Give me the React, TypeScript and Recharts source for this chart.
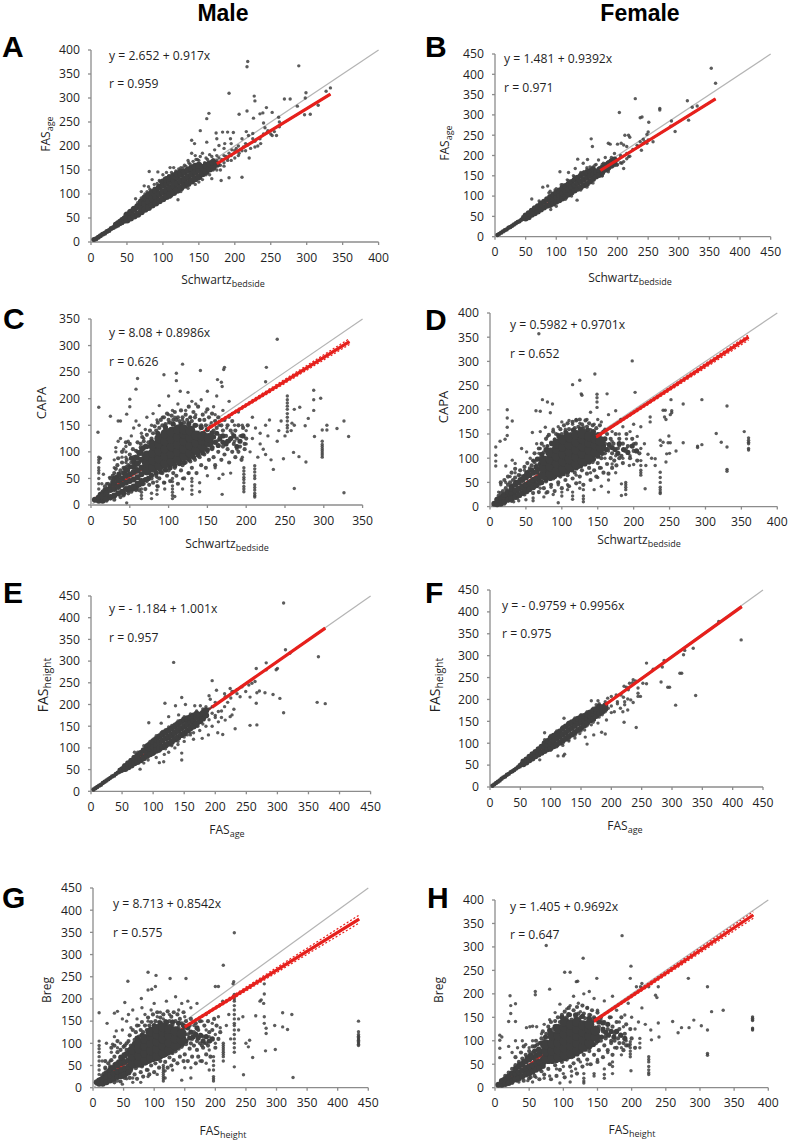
import { ScatterChart, Scatter, XAxis, YAxis } from "recharts";

type Pt = [number, number];

const font = "'Open Sans', sans-serif";
const dotColor = "#3f3f3f";
const redColor = "#e6201c";

const ticks350 = [0, 50, 100, 150, 200, 250, 300, 350];
const ticks400 = [0, 50, 100, 150, 200, 250, 300, 350, 400];
const ticks450 = [0, 50, 100, 150, 200, 250, 300, 350, 400, 450];

// band / core = the solid part of each cloud, drawn with bigger dots; dense, halo and pts = the dots you can tell apart
const bandA: Pt[] = [[4,5],[7,7],[10,10],[13,13],[16,16],[19,18],[22,22],[25,24],[28,28],[31,30],[34,33],[34,37],[37,35],[37,40],[40,38],[40,43],[43,40],[43,47],[46,43],[46,50],[49,45],[49,54]];
const coreA: Pt[] = [[50,46],[50,56],[55,50],[55,62],[60,54],[60,68],[65,58],[65,74],[70,63],[70,74],[70,84],[75,68],[75,80],[75,92],[80,72],[80,85],[80,98],[85,77],[85,90],[85,103],[90,81],[90,95],[90,108],[95,86],[95,100],[95,114],[100,90],[100,104],[100,118],[100,125],[105,95],[105,108],[105,122],[105,130],[110,99],[110,112],[110,126],[110,134],[115,103],[115,117],[115,130],[115,138],[120,108],[120,122],[120,136],[120,142],[125,113],[125,127],[125,141],[125,146],[130,118],[130,132],[130,146],[135,122],[135,136],[135,150],[140,127],[140,141],[140,154],[145,132],[145,146],[145,158],[150,136],[150,150],[150,160],[155,142],[155,155],[160,147],[160,160],[165,152],[165,163],[170,156],[170,166],[175,162]];
const ptsA: Pt[] = [[218,376],[217,365],[289,367],[299,311],[298,300],[327,314],[333,321],[192,310],[227,304],[228,294],[269,298],[277,298],[287,283],[316,285],[297,265],[305,266],[164,268],[161,257],[217,273],[206,266],[152,232],[226,258],[235,267],[239,269],[244,280],[252,270],[261,260],[262,250],[240,248],[242,238],[140,212],[144,205],[161,208],[174,227],[183,229],[190,229],[198,228],[216,230],[219,222],[225,226],[194,215],[175,215],[178,201],[81,147],[93,146],[74,117],[62,90],[210,135],[192,134],[181,128],[168,132],[121,88],[200,190],[205,200],[210,190],[215,205],[220,175],[222,195],[228,210],[232,200],[235,215],[240,225],[245,228],[250,225],[255,230],[258,222],[262,240],[200,175],[195,180],[190,170],[185,165],[180,160],[175,170],[170,160],[165,165],[160,150],[160,175],[150,170],[155,185],[145,180],[140,185],[135,170],[130,160],[125,155],[115,155],[110,155],[105,145],[100,140],[95,128],[88,120],[85,130],[80,115],[70,105],[150,125],[160,140],[170,150],[180,150],[190,175],[175,180],[185,195],[195,205],[210,215],[225,215],[228,198],[236,205],[246,232],[252,222],[168,178],[172,192],[186,205],[152,160],[148,172],[138,162],[128,148],[118,145],
[60,70],[65,82],[70,92],[75,100],[78,105],[82,110],[88,112],[92,122],[96,126],[102,132],[108,138],[112,145],[118,148],[122,152],[128,155],[132,158],[136,165],[142,168],[146,172],[152,178],[158,165],[162,172],[165,182],[170,172],[172,165],[178,175],[182,172],[185,180],[188,178],[192,185],[196,192],[202,195],[206,185],[212,198],[218,202],[110,93],[125,105],[135,112],[145,120],[155,130],[165,140],[175,150],[185,158],[195,170],[205,180],[215,190]];
const fitA: Pt[] = [[3,5],[333,308]];
const fitTopA: Pt[] = [[175,163],[333,308]];

const bandB: Pt[] = [[4,4],[7,7],[10,10],[13,13],[16,16],[19,18],[22,22],[25,24],[28,27],[31,30],[34,33],[37,36],[40,38],[43,42],[46,44],[46,48]];
const coreB: Pt[] = [[50,45],[50,52],[55,48],[55,58],[60,54],[60,64],[65,58],[65,70],[70,62],[70,75],[75,67],[75,81],[80,72],[80,86],[85,76],[85,92],[90,78],[90,88],[90,98],[95,82],[95,93],[95,104],[100,86],[100,97],[100,108],[105,90],[105,102],[105,114],[110,94],[110,107],[110,120],[115,99],[115,112],[115,125],[120,104],[120,117],[120,130],[125,109],[125,122],[125,135],[130,114],[130,127],[130,140],[135,118],[135,132],[135,145],[140,122],[140,136],[140,150],[145,127],[145,141],[145,155],[150,130],[150,145],[150,158],[155,136],[155,150],[155,162],[160,142],[160,155],[160,166],[165,148],[165,160],[170,152],[170,165],[175,158],[175,170],[180,165],[180,175],[185,170],[185,180],[190,175],[190,186],[195,182],[195,190]];
const ptsB: Pt[] = [[353,415],[360,378],[229,340],[203,306],[314,335],[322,319],[330,322],[269,316],[269,312],[237,293],[240,295],[251,282],[288,285],[287,272],[294,259],[316,287],[157,241],[159,222],[185,230],[212,250],[218,250],[220,245],[250,258],[248,252],[206,230],[200,228],[188,228],[210,226],[215,222],[135,191],[151,190],[106,160],[120,158],[78,122],[86,125],[60,93],[134,90],[91,67],[237,234],[242,230],[245,234],[234,222],[239,213],[258,234],[242,240],[250,238],[218,197],[210,168],[207,181],[199,176],[185,164],[190,189],[177,181],[169,189],[163,176],[144,181],[131,168],[158,148],[180,195],[170,170],[160,165],[150,170],[140,158],[128,150],[118,140],[108,128],[98,115],[88,108],[72,88],[195,185],[205,200],[215,205],[225,215],[195,205],[175,150],[185,175],[200,178],[232,225],[248,230],[170,155],[155,172],[145,160],
[90,112],[100,118],[110,128],[120,138],[130,148],[140,155],[150,165],[160,172],[165,178],[175,178],[180,180],[185,185],[190,195],[195,180],[200,188],[205,195],[100,75],[115,92],[125,100],[140,115],[150,122],[160,132],[175,150],[185,160],[195,175],[205,182],[210,185],[215,192],[220,198]];
const fitB: Pt[] = [[3,4],[360,339.6]];
const fitTopB: Pt[] = [[172,163],[360,339.6]];

const bandC: Pt[] = [[5,10],[10,8],[10,14],[15,8],[15,16],[20,12],[20,22],[25,15],[25,28],[30,18],[30,30],[30,40],[35,22],[35,34],[35,46],[40,25],[40,38],[40,50],[45,30],[45,42],[45,55],[50,32],[50,45],[50,58],[55,35],[55,48],[55,62],[55,72],[60,40],[60,52],[60,65],[60,78],[65,45],[65,58],[65,70],[65,85]];
const coreC: Pt[] = [[72,65],[72,79],[72,93],[80,70],[80,84],[80,98],[80,112],[88,73],[88,87],[88,101],[88,115],[88,125],[96,78],[96,92],[96,106],[96,120],[96,134],[104,82],[104,96],[104,110],[104,124],[104,138],[112,86],[112,100],[112,114],[112,128],[112,142],[120,92],[120,106],[120,120],[120,134],[120,142],[128,98],[128,112],[128,126],[128,140],[136,103],[136,117],[136,131],[144,110],[144,122],[144,130],[152,118],[152,126]];
const denseC: Pt[] = [[12,20],[15,22],[18,28],[22,30],[25,36],[28,42],[30,50],[33,52],[36,58],[38,48],[42,60],[44,68],[47,66],[50,72],[52,88],[55,82],[58,90],[60,88],[62,98],[64,100],[66,105],[68,108],[42,22],[48,28],[53,30],[58,32],[62,38],[66,40],[70,48],[74,50],[78,56],[84,60],[90,62],[96,66],[102,70],[108,74],[114,78],[120,80],[126,86],[132,90],[138,94],[144,98],[150,104],[156,108],[160,118],[164,112],[158,128],[166,124],[170,118],[174,115],[162,135],[150,142],[156,136],[142,146],[134,150],[126,153],[116,152],[106,152],[96,146],[86,135],[78,120],[72,110],[180,125],[184,130],[188,110],[170,130],[176,120],[192,120],[196,130]];
const haloC: Pt[] = [[55,90],[58,102],[60,118],[62,95],[64,108],[66,128],[68,120],[70,112],[72,132],[74,118],[76,140],[78,125],[80,135],[82,148],[84,140],[86,155],[88,145],[90,160],[92,150],[94,165],[96,152],[98,172],[100,160],[102,155],[104,168],[106,160],[108,175],[110,160],[112,165],[114,158],[116,178],[118,165],[120,155],[122,170],[124,160],[126,185],[128,165],[130,158],[132,175],[134,165],[136,150],[138,185],[140,160],[142,150],[144,170],[146,160],[148,150],[150,180],[152,165],[154,148],[156,172],[158,140],[160,158],[162,145],[164,165],[166,130],[168,150],[170,140],[172,160],[174,130],[176,150],[178,120],[180,140],[182,158],[184,115],[186,140],[188,125],[190,150],[192,110],[194,130],[196,145],[198,105],[200,125],[202,150],
[55,30],[60,35],[62,28],[68,40],[70,30],[72,45],[75,38],[78,50],[80,42],[84,55],[86,35],[88,50],[92,60],[94,42],[98,55],[100,65],[102,45],[106,60],[108,70],[110,55],[112,40],[116,65],[118,75],[120,50],[122,80],[126,60],[128,82],[130,70],[134,85],[136,60],[140,90],[142,75],[146,95],[148,70],[150,100],[152,85],[156,105],[158,90],[160,75],[162,120],[164,100],[168,85],[170,110],[172,95],[176,105],[178,80],[182,100],[186,90],[190,100],[194,85],[198,115],
[15,25],[18,35],[22,40],[25,50],[28,55],[30,60],[32,68],[34,75],[36,55],[38,65],[40,80],[42,70],[44,60],[46,85],[48,75],[50,95],[52,80],[54,105],[56,85],[58,70],[60,100],[62,80],[64,115],[66,95],[28,45],[35,88],[40,100],[45,118],[50,115],[25,12],[30,10],[38,15],[42,18],[48,22],[52,25],[58,28],[20,8],[35,20]];
const ptsC: Pt[] = [[240,312],[226,259],[172,259],[171,255],[141,253],[118,265],[94,245],[110,248],[110,234],[60,238],[58,218],[10,184],[25,167],[9,137],[50,199],[50,185],[46,171],[163,236],[168,231],[169,223],[225,232],[287,216],[287,198],[296,201],[287,178],[280,163],[326,158],[317,144],[304,150],[304,141],[298,141],[276,149],[332,129],[288,129],[326,23],[262,31],[169,20],[46,4],[277,81],[248,87],[235,67],[261,99],[268,91],[269,184],[262,180],[259,154],
[298,90],[298,94],[298,98],[298,102],[298,106],[298,110],[298,114],[298,120],[211,15],[211,18],[211,22],[211,28],[211,33],[211,38],[211,50],[211,55],[211,62],[211,68],[211,74],[197,25],[197,30],[197,35],[197,42],[197,48],[197,52],[197,58],[197,64],[197,70],[253,138],[253,145],[253,150],[253,158],[253,165],[253,172],[253,180],[253,186],[253,192],[253,198],[253,205],
[105,12],[105,18],[105,24],[105,30],[105,36],[105,44],[105,50],[108,16],[85,20],[85,28],[85,36],[85,44],[85,52],[85,60],[130,20],[130,28],[130,36],[130,44],[130,50],[65,12],[65,18],[65,24],[65,30],[78,12],[78,22],[95,30],[95,42],[118,30],[118,50],[125,60],[140,25],[140,42],[150,55],[165,50],[170,58],[160,70],[180,60],
[10,30],[10,40],[10,50],[10,60],[10,65],[10,70],[10,80],[10,85],[10,90],[12,88],[14,40],[16,58],[20,40],[24,52],[30,70],[30,85],[32,100],[32,108],[35,120],[38,125],[40,90],[42,105],[45,60],[45,72],[45,80],[45,90],[45,100],[45,110],[48,120],[35,158],[38,158],[52,130],[55,145],[58,158],[62,150],[65,135],[68,125],[70,142],[72,165],[78,150],[80,172],[85,160],[88,187],[92,165],[95,150],[100,155],[100,170],[100,205],[105,178],[108,165],[112,190],[115,214],[118,160],[122,178],[125,212],[128,165],[130,195],[135,170],[135,190],[140,160],[142,198],[148,175],[150,214],[155,155],[158,185],[160,170],[162,205],[165,150],[168,160],[170,178],[175,145],[178,165],[178,195],[182,135],[185,120],[185,150],[188,105],[190,175],[192,130],[195,90],[195,150],[200,115],[200,140],[205,100],[208,125],[208,165],[212,145],[215,90],[218,115],[218,135],[222,105],[225,150],[225,95],[228,130],[230,160],[232,85],[240,120],[242,140],[245,158],[250,130],[258,140],[262,150]];
const fitC: Pt[] = [[5,12.6],[333,307.3]];
const fitTopC: Pt[] = [[150,143],[333,307.3]];
const upperC: Pt[] = [[150,145],[333,313]];
const lowerC: Pt[] = [[150,141],[333,302]];

const bandD: Pt[] = [[6,6],[10,5],[10,14],[15,6],[15,18],[20,10],[20,24],[25,14],[25,30],[30,16],[30,28],[30,38],[35,20],[35,33],[35,45],[40,24],[40,37],[40,50],[45,28],[45,42],[45,55],[50,32],[50,45],[50,60],[55,36],[55,50],[55,65],[60,40],[60,55],[60,70],[65,44],[65,58],[65,72],[70,50],[70,62],[70,78]];
const coreD: Pt[] = [[75,65],[75,80],[75,95],[84,68],[84,83],[84,98],[84,112],[93,74],[93,89],[93,104],[93,119],[93,130],[102,78],[102,93],[102,108],[102,123],[102,138],[111,83],[111,98],[111,113],[111,128],[111,143],[120,88],[120,103],[120,118],[120,133],[120,148],[129,94],[129,109],[129,124],[129,139],[129,150],[138,102],[138,117],[138,132],[138,145],[147,112],[147,127],[147,140],[154,122],[154,135]];
const denseD: Pt[] = [[12,10],[16,12],[18,22],[22,16],[24,30],[27,22],[30,42],[33,26],[36,50],[38,32],[42,56],[44,38],[47,62],[50,38],[52,70],[56,44],[58,76],[62,48],[64,82],[68,54],[70,88],[72,50],[78,56],[84,58],[90,62],[96,66],[102,68],[108,72],[114,76],[120,80],[126,84],[132,88],[138,92],[144,98],[150,104],[156,110],[162,118],[158,125],[166,128],[170,122],[174,118],[178,110],[160,140],[152,148],[144,155],[136,158],[126,160],[116,158],[106,152],[96,145],[86,130],[78,118],[72,108],[66,98],[180,130],[186,118],[192,112],[198,125],[204,115]];
const haloD: Pt[] = [[60,95],[62,110],[65,85],[68,120],[70,100],[72,130],[75,112],[78,140],[80,125],[82,148],[85,132],[88,155],[90,138],[92,150],[95,148],[98,160],[100,150],[103,168],[105,155],[108,172],[110,160],[113,150],[115,175],[118,162],[120,178],[123,165],[125,180],[128,170],[130,160],[133,178],[135,165],[138,172],[140,158],[143,168],[145,150],[148,162],[150,150],[153,168],[155,140],[158,155],[160,130],[163,150],[165,120],[168,140],[170,110],[172,130],[175,150],[178,120],[180,140],[183,105],[185,130],[188,115],[190,150],[192,125],[195,100],[198,140],[200,115],[203,130],[205,95],[208,110],
[55,35],[58,50],[60,28],[63,42],[65,55],[68,30],[70,48],[72,60],[75,38],[78,52],[80,30],[82,62],[85,45],[88,58],[90,32],[92,68],[95,50],[98,62],[100,38],[103,72],[105,55],[108,65],[110,42],[113,78],[115,58],[118,70],[120,48],[123,82],[125,62],[128,75],[130,45],[133,88],[135,68],[138,80],[140,55],[143,92],[145,75],[148,62],[150,90],[153,80],[155,100],[158,70],[160,110],[163,88],[165,68],[168,100],[170,80],[173,95],[176,85],[180,100],[185,90],
[10,15],[12,22],[15,28],[18,32],[20,12],[22,38],[25,45],[28,50],[30,12],[32,55],[35,60],[38,18],[40,65],[42,75],[45,58],[48,82],[50,68],[52,90],[55,75],[58,85],[60,70],[62,92],[65,80],[25,62],[30,70],[35,78],[15,50],[20,55],[42,22],[48,25],[52,30]];
const ptsD: Pt[] = [[68,357],[198,301],[146,274],[125,261],[115,252],[127,233],[128,230],[149,232],[149,225],[149,216],[149,205],[163,233],[202,236],[73,221],[80,216],[87,212],[24,200],[24,183],[31,177],[24,164],[64,198],[70,197],[59,153],[70,155],[77,164],[84,194],[8,123],[14,135],[21,139],[24,147],[8,106],[8,94],[8,84],[22,84],[31,96],[35,89],[44,120],[51,113],[56,100],[330,208],[295,221],[354,155],[315,151],[322,133],[330,123],[360,142],[360,137],[360,133],[360,130],[360,120],[360,117],[330,77],[330,73],[295,128],[289,125],[289,122],[269,132],[269,212],[252,221],[241,199],[244,199],[253,198],[253,194],[251,190],[243,185],[245,180],[249,146],[248,132],[251,132],[259,115],[246,109],[250,110],[245,92],[237,137],[241,133],[238,126],[223,185],[223,175],[230,99],[230,85],[237,71],[237,60],[237,50],[237,40],[237,35],[237,30],[237,27],[216,37],[210,95],[210,85],[210,75],[210,70],[210,65],[217,85],[194,85],[200,87],[189,50],[189,45],[189,40],[189,35],[189,25],[183,23],[183,47],
[95,8],[115,15],[115,22],[115,30],[130,10],[130,16],[130,22],[130,35],[100,22],[100,30],[88,25],[75,20],[78,28],[60,12],[60,18],[50,14],[40,12],[33,10],[20,5],[145,35],[150,60],[165,30],[155,42],[165,55],[125,50],[125,38],[108,35],[108,45],[95,45],[85,40],[70,38],[120,65],[140,70],[155,80],[175,70],[170,88],
[90,140],[95,165],[100,175],[105,160],[110,178],[115,170],[120,180],[125,172],[130,165],[135,180],[140,195],[145,170],[150,180],[155,175],[160,160],[165,190],[170,155],[175,198],[180,150],[182,180],[185,165],[190,140],[190,120],[195,105],[195,155],[200,130],[205,145],[210,165],[210,120],[215,130],[220,108],[225,100],[180,125],[175,105],[170,135],[165,115],[160,100],[155,125],[185,100],[200,170],[88,160],[80,145],[75,125],[68,110],[60,95],[55,80],[48,75],[42,65],[35,70],[28,62],[22,50],[15,45],[12,30],[65,130],[70,120],[80,125]];
const fitD: Pt[] = [[3,3.5],[360,350]];
const fitTopD: Pt[] = [[148,144],[360,350]];
const upperD: Pt[] = [[148,146],[360,355]];
const lowerD: Pt[] = [[148,142],[360,344]];

const bandE: Pt[] = [[4,4],[7,7],[10,10],[13,13],[16,15],[19,19],[22,22],[25,25],[28,28],[31,31],[34,34],[37,36],[40,40],[43,43],[46,45],[46,49],[49,47],[49,52],[52,49],[52,55]];
const coreE: Pt[] = [[55,52],[55,58],[60,56],[60,64],[65,60],[65,70],[70,65],[70,77],[75,68],[75,82],[80,72],[80,88],[85,77],[85,94],[90,82],[90,92],[90,102],[95,86],[95,98],[95,108],[100,90],[100,102],[100,114],[105,94],[105,107],[105,120],[110,98],[110,112],[110,126],[115,102],[115,117],[115,132],[120,106],[120,122],[120,136],[125,110],[125,125],[125,140],[130,115],[130,130],[130,145],[135,120],[135,135],[135,150],[140,124],[140,140],[140,155],[145,130],[145,145],[145,160],[150,134],[150,150],[150,165],[155,140],[155,155],[155,168],[160,146],[160,160],[160,170],[165,150],[165,164],[165,174],[170,156],[170,170],[170,178],[175,162],[175,176],[180,168],[180,180],[185,175],[185,186]];
const ptsE: Pt[] = [[310,434],[313,326],[320,318],[366,310],[133,297],[364,205],[377,202],[310,181],[304,214],[293,223],[280,227],[271,231],[267,227],[282,296],[300,283],[298,280],[282,280],[266,283],[195,255],[202,233],[146,216],[119,203],[136,197],[152,200],[93,158],[113,157],[146,88],[146,72],[117,68],[110,66],[79,51],[232,144],[267,153],[256,152],[204,135],[212,131],[189,130],[179,122],[165,120],[266,203],[230,189],[224,172],[216,164],[227,176],[205,184],[224,237],[230,230],[240,218],[256,217],[249,230],[254,245],[259,249],[264,253],[243,241],[235,234],[227,230],[216,218],[190,220],[192,212],[176,197],[167,197],[141,176],[125,172],[180,190],[185,175],[195,180],[200,170],[210,170],[205,160],[195,150],[185,150],[175,140],[165,135],[155,130],[150,115],[140,108],[135,100],[130,105],[125,90],[118,85],[105,78],[92,72],[85,65],[135,155],[125,148],[115,138],[105,128],[95,115],[85,105],[75,90],[70,90],[160,175],[170,185],[185,195],[200,205],[215,225],[235,225],[160,130],[172,150],[178,160],
[90,108],[100,120],[110,130],[120,142],[130,152],[140,162],[150,172],[160,178],[170,182],[180,186],[190,190],[195,195],[100,85],[110,92],[120,98],[130,108],[140,115],[150,125],[160,135],[170,150],[180,155],[190,165],[200,175],[210,185],[215,195],[220,205],[225,215]];
const fitE: Pt[] = [[3,2],[377,376]];
const fitTopE: Pt[] = [[195,194],[377,376]];

const bandF: Pt[] = [[4,3],[7,6],[10,9],[13,12],[16,15],[19,19],[22,22],[25,24],[28,28],[31,30],[34,34],[37,36],[40,39],[43,42],[46,45],[49,47],[49,50],[52,50],[52,53]];
const coreF: Pt[] = [[55,52],[55,58],[60,56],[60,63],[65,61],[65,69],[70,65],[70,75],[75,70],[75,80],[80,74],[80,86],[85,78],[85,92],[90,82],[90,92],[90,100],[95,86],[95,96],[95,105],[100,89],[100,100],[100,112],[105,93],[105,105],[105,117],[110,97],[110,110],[110,122],[115,101],[115,115],[115,127],[120,106],[120,120],[120,133],[125,110],[125,124],[125,138],[130,116],[130,130],[130,144],[135,120],[135,135],[135,148],[140,125],[140,140],[140,152],[145,130],[145,145],[145,156],[150,135],[150,148],[150,160],[155,140],[155,153],[155,162],[160,146],[160,158],[160,166],[165,152],[165,163],[165,170],[170,156],[170,168],[170,175],[175,162],[175,172],[175,178],[180,168],[180,178],[180,184],[185,172],[185,182],[190,178],[190,186]];
const ptsF: Pt[] = [[414,336],[377,378],[335,317],[321,312],[319,302],[313,260],[316,260],[339,209],[306,187],[293,228],[296,228],[282,240],[258,283],[284,274],[287,289],[269,269],[221,230],[221,148],[241,136],[258,236],[252,237],[236,245],[230,237],[244,226],[244,214],[248,207],[244,207],[227,201],[232,199],[222,195],[236,193],[227,176],[222,188],[219,172],[205,172],[200,170],[192,153],[190,121],[184,125],[171,119],[160,98],[157,114],[123,75],[121,71],[90,124],[122,157],[159,161],[167,197],[178,197],[175,188],[194,203],[200,207],[208,210],[216,210],[112,71],[82,62],[172,153],[178,146],[167,142],[156,130],[148,122],[140,112],[130,105],[120,95],[150,160],[140,150],[128,142],[118,132],[110,122],[100,112],[185,165],[195,180],[210,190],[225,228],[235,238],[240,242],[228,222],[215,180],
[90,108],[100,118],[110,128],[120,138],[130,148],[140,158],[150,165],[160,172],[170,180],[180,190],[190,195],[100,84],[110,92],[120,100],[130,108],[140,118],[150,128],[160,140],[170,148],[180,160],[190,172],[200,185],[210,195],[220,205]];
const fitF: Pt[] = [[3,2],[415,412]];
const fitTopF: Pt[] = [[190,188],[415,412]];

const bandG: Pt[] = [[6,12],[10,9],[10,16],[16,9],[16,20],[22,12],[22,24],[22,32],[28,16],[28,28],[28,40],[34,20],[34,32],[34,45],[40,24],[40,36],[40,50],[46,26],[46,40],[46,55],[46,68],[52,30],[52,44],[52,58],[52,72],[58,34],[58,48],[58,62],[58,78]];
const coreG: Pt[] = [[65,55],[65,71],[65,85],[75,56],[75,72],[75,88],[75,100],[85,62],[85,78],[85,94],[85,110],[95,68],[95,84],[95,100],[95,116],[95,126],[105,72],[105,88],[105,104],[105,120],[105,132],[115,78],[115,94],[115,110],[115,126],[115,136],[125,85],[125,101],[125,117],[125,132],[135,95],[135,111],[135,127],[145,108],[145,122]];
const denseG: Pt[] = [[14,18],[18,24],[20,16],[24,34],[26,22],[30,44],[32,24],[36,52],[38,30],[42,58],[44,32],[48,64],[50,38],[54,76],[56,40],[60,85],[62,44],[66,95],[70,50],[74,108],[68,100],[80,52],[86,56],[92,60],[98,64],[104,66],[110,70],[116,74],[122,78],[128,84],[134,88],[140,94],[146,98],[152,105],[158,112],[164,115],[160,125],[168,120],[172,112],[176,118],[155,135],[148,140],[140,145],[130,148],[120,148],[110,146],[100,140],[90,125],[80,118],[72,112],[180,105],[185,115],[190,105],[195,110],[170,135]];
const haloG: Pt[] = [[50,75],[52,95],[55,85],[58,105],[60,118],[62,95],[65,130],[68,108],[70,125],[72,140],[75,115],[78,130],[80,148],[82,125],[85,140],[88,130],[90,158],[92,140],[95,148],[98,165],[100,135],[102,150],[105,170],[108,148],[110,158],[112,140],[115,165],[118,150],[120,145],[122,172],[125,150],[128,160],[130,142],[132,170],[135,150],[138,165],[140,135],[142,155],[145,145],[148,170],[150,135],[152,150],[155,120],[158,140],[160,155],[162,110],[165,125],[168,145],[170,105],[172,130],[175,150],[178,95],[180,115],[182,140],[185,100],[188,150],[190,125],[192,105],[195,130],[198,155],[200,90],[202,140],[205,110],[208,125],
[50,25],[52,40],[55,30],[58,48],[60,22],[62,38],[65,50],[68,30],[70,44],[72,20],[75,52],[78,35],[80,48],[82,25],[85,55],[88,40],[90,58],[92,30],[95,50],[98,62],[100,35],[102,55],[105,65],[108,45],[110,60],[112,70],[118,58],[120,75],[122,45],[125,68],[128,50],[130,78],[132,62],[135,82],[138,55],[140,88],[142,70],[145,92],[148,60],[150,75],[152,98],[155,60],[158,88],[160,100],[162,70],[165,95],[168,55],[170,85],[172,70],[175,100],[178,60],[180,90],[185,75],[188,95],[192,70],
[12,20],[15,28],[18,32],[20,45],[22,25],[25,38],[25,55],[28,48],[30,62],[32,30],[35,70],[38,55],[40,80],[42,35],[45,85],[48,60],[50,92],[52,22],[55,100],[15,14],[35,12],[45,14],[30,90],[35,95],[40,105],[20,60]];
const ptsG: Pt[] = [[231,349],[213,276],[230,239],[229,234],[90,260],[103,253],[126,246],[152,246],[57,240],[90,220],[96,222],[102,228],[200,228],[205,228],[10,169],[23,145],[52,192],[79,201],[325,165],[310,169],[310,137],[318,131],[297,140],[434,150],[434,126],[434,120],[434,116],[434,113],[434,110],[434,107],[434,104],[434,101],[434,98],[434,95],[298,86],[282,83],[327,23],[246,29],[261,68],[231,47],[280,234],[280,211],[279,190],[275,198],[273,195],[266,162],[280,160],[280,145],[283,134],[283,122],[254,92],[250,100],[256,107],
[231,210],[231,205],[231,200],[231,195],[231,185],[231,175],[231,165],[231,155],[231,145],[231,140],[231,130],[231,120],[231,110],[231,100],[231,90],[231,80],[213,100],[213,95],[213,90],[213,85],[213,80],[213,75],[213,70],[213,60],[197,15],[197,20],[197,25],[197,40],[197,50],[197,60],[197,70],[115,15],[115,20],[115,25],[115,30],[115,35],[115,40],[115,45],[115,50],[118,22],[118,38],[90,25],[90,40],[78,12],[65,12],[65,22],[55,20],[48,8],[40,15],[105,30],[130,40],[145,17],[160,22],[150,45],[160,45],[175,60],[185,55],[190,40],
[10,30],[10,40],[10,50],[10,60],[10,70],[10,80],[10,88],[10,95],[10,105],[15,60],[20,42],[22,100],[28,60],[30,80],[32,98],[35,115],[38,128],[40,90],[45,100],[45,70],[48,130],[35,168],[40,172],[48,155],[55,150],[58,165],[62,135],[65,175],[72,155],[75,140],[80,180],[85,165],[90,150],[95,175],[100,190],[105,160],[110,145],[110,170],[115,155],[120,195],[125,165],[130,150],[135,205],[140,175],[145,190],[150,160],[155,195],[160,180],[165,140],[170,190],[175,120],[178,150],[182,100],[185,130],[185,165],[190,85],[190,115],[195,145],[200,120],[200,100],[205,160],[208,135],[212,195],[218,140],[222,165],[225,110],[238,155],[245,160],[238,130]];
const fitG: Pt[] = [[3,11],[435,380]];
const fitTopG: Pt[] = [[150,137],[435,380]];
const upperG: Pt[] = [[150,139],[435,389]];
const lowerG: Pt[] = [[150,135],[435,371]];

const bandH: Pt[] = [[5,6],[10,6],[10,14],[15,8],[15,18],[20,10],[20,24],[25,14],[25,30],[30,18],[30,30],[30,38],[35,20],[35,33],[35,45],[40,24],[40,37],[40,50],[45,28],[45,42],[45,56],[50,30],[50,45],[50,60],[55,34],[55,48],[55,65],[60,38],[60,52],[60,68],[65,42],[65,56],[65,72],[70,46],[70,60],[70,78]];
const coreH: Pt[] = [[75,62],[75,77],[75,92],[84,64],[84,79],[84,94],[84,110],[93,66],[93,81],[93,96],[93,111],[93,125],[102,70],[102,85],[102,100],[102,115],[102,130],[102,140],[111,74],[111,89],[111,104],[111,119],[111,134],[120,80],[120,95],[120,110],[120,125],[120,140],[129,88],[129,103],[129,118],[129,133],[138,95],[138,110],[138,125],[138,135],[147,108],[147,122]];
const denseH: Pt[] = [[12,10],[15,14],[18,22],[22,14],[24,30],[27,20],[30,42],[33,24],[36,50],[38,24],[42,56],[44,34],[47,64],[50,38],[52,70],[56,42],[58,78],[62,46],[64,82],[68,50],[70,90],[72,54],[78,56],[84,56],[90,58],[96,60],[102,62],[108,66],[114,68],[120,72],[126,78],[132,82],[138,86],[144,92],[150,100],[156,108],[162,118],[158,125],[166,112],[170,120],[174,108],[152,140],[146,145],[138,148],[128,152],[118,155],[108,156],[98,150],[88,130],[80,122],[74,108],[68,95],[178,120],[184,112],[190,105],[165,135],[158,138]];
const haloH: Pt[] = [[55,75],[58,88],[60,100],[62,80],[65,95],[68,105],[70,120],[72,100],[75,115],[78,130],[80,115],[82,140],[85,125],[88,142],[90,132],[92,150],[95,140],[98,155],[100,145],[102,162],[105,150],[108,170],[110,155],[112,145],[115,165],[118,150],[120,172],[122,158],[125,150],[128,175],[130,158],[132,148],[135,170],[138,155],[140,145],[142,165],[145,150],[148,145],[150,160],[152,130],[155,150],[158,120],[160,140],[162,110],[165,125],[168,150],[170,100],[172,130],[175,115],[178,140],[180,105],[182,125],[185,150],[188,95],[190,115],[192,135],[195,90],[198,125],[200,105],[205,85],
[50,20],[52,35],[55,48],[58,25],[60,40],[62,55],[65,18],[68,35],[70,50],[72,28],[75,60],[78,40],[80,55],[82,18],[85,65],[88,48],[90,25],[92,62],[95,38],[98,55],[100,70],[102,22],[105,60],[108,75],[110,45],[112,65],[115,52],[118,72],[120,30],[122,60],[125,80],[128,45],[130,70],[132,85],[135,60],[138,78],[140,50],[142,90],[145,70],[148,95],[150,55],[152,80],[155,100],[158,65],[160,90],[162,105],[165,80],[168,50],[170,95],[172,70],[175,100],[178,85],[182,95],[188,80],[192,90],
[10,10],[12,18],[15,25],[18,12],[20,32],[22,20],[25,40],[25,10],[28,28],[30,48],[32,15],[35,55],[38,30],[40,62],[42,15],[45,70],[48,45],[50,78],[52,22],[55,88],[58,60],[60,70],[62,92],[38,75],[42,88],[30,65]];
const ptsH: Pt[] = [[186,324],[75,303],[129,276],[102,246],[110,246],[199,259],[149,233],[198,233],[119,226],[121,227],[283,233],[311,215],[334,165],[317,162],[311,123],[302,132],[291,144],[273,128],[268,117],[284,128],[260,141],[377,151],[377,148],[377,145],[377,143],[377,127],[377,125],[377,123],[311,73],[311,69],[22,196],[23,175],[30,179],[23,158],[20,141],[30,141],[59,205],[59,198],[80,210],[7,112],[10,108],[7,101],[7,84],[7,64],[46,128],[51,130],[55,131],[61,130],[239,215],[239,138],[235,197],[237,192],[240,108],[228,123],[229,102],[215,222],[207,215],[213,215],[225,215],[225,66],[225,60],[225,55],[225,45],[225,38],[225,32],[225,28],[212,105],[212,95],[212,85],[198,98],[198,92],[198,85],[198,78],[198,72],[198,66],[199,36],
[95,10],[110,12],[130,10],[130,14],[130,20],[130,30],[112,25],[112,35],[100,30],[100,45],[90,40],[80,25],[72,20],[60,22],[55,12],[48,15],[35,12],[145,25],[145,30],[160,20],[160,28],[160,40],[172,30],[172,45],[172,55],[150,60],[135,50],[125,55],[118,40],[185,70],[185,85],[165,75],[175,85],
[20,88],[25,75],[30,100],[33,85],[40,100],[45,92],[50,85],[55,100],[60,90],[68,115],[72,135],[80,145],[88,160],[95,178],[100,150],[105,168],[110,175],[115,195],[118,155],[122,180],[125,162],[130,200],[135,170],[138,205],[140,155],[145,190],[150,165],[155,145],[160,185],[165,135],[170,150],[172,195],[175,120],[178,165],[182,140],[185,110],[188,130],[190,155],[192,100],[195,180],[200,150],[205,125],[210,140],[215,170],[220,135]];
const fitH: Pt[] = [[3,4.3],[378,368]];
const fitTopH: Pt[] = [[145,142],[378,368]];
const upperH: Pt[] = [[145,144],[378,375]];
const lowerH: Pt[] = [[145,140],[378,361]];

const toXY = (list: Pt[]) => list.map(([x, y]) => ({ x, y }));
const dot = (r: number, opacity = 1) => (p: any) => <circle cx={p.cx} cy={p.cy} r={r} fill={dotColor} fillOpacity={opacity} />;
const noDot = () => <g />;

const panels = [
  { x0: 90.7, x1: 378.3, y0: 241.7, y1: 49.7, max: 400, ticks: ticks400, band: bandA, core: coreA, pts: ptsA, fit: fitA, top: fitTopA, rBand: 2.5, rCore: 3.5 },
  { x0: 495, x1: 770.7, y0: 236.7, y1: 54, max: 450, ticks: ticks450, band: bandB, core: coreB, pts: ptsB, fit: fitB, top: fitTopB, rBand: 2.2, rCore: 3 },
  { x0: 90.7, x1: 362.3, y0: 505, y1: 319, max: 350, ticks: ticks350, band: bandC, core: coreC, dense: denseC, halo: haloC, pts: ptsC, fit: fitC, top: fitTopC, upper: upperC, lower: lowerC, rBand: 3, rCore: 5 },
  { x0: 490, x1: 777.3, y0: 506.3, y1: 312.7, max: 400, ticks: ticks400, band: bandD, core: coreD, dense: denseD, halo: haloD, pts: ptsD, fit: fitD, top: fitTopD, upper: upperD, lower: lowerD, rBand: 3, rCore: 5 },
  { x0: 90.7, x1: 370.3, y0: 791.3, y1: 596, max: 450, ticks: ticks450, band: bandE, core: coreE, pts: ptsE, fit: fitE, top: fitTopE, rBand: 2.2, rCore: 3.2 },
  { x0: 490.3, x1: 763.3, y0: 787, y1: 590, max: 450, ticks: ticks450, band: bandF, core: coreF, pts: ptsF, fit: fitF, top: fitTopF, rBand: 2.2, rCore: 3 },
  { x0: 92.7, x1: 368, y0: 1087.7, y1: 888, max: 450, ticks: ticks450, band: bandG, core: coreG, dense: denseG, halo: haloG, pts: ptsG, fit: fitG, top: fitTopG, upper: upperG, lower: lowerG, rBand: 3, rCore: 5 },
  { x0: 495, x1: 768.3, y0: 1087.7, y1: 900, max: 400, ticks: ticks400, band: bandH, core: coreH, dense: denseH, halo: haloH, pts: ptsH, fit: fitH, top: fitTopH, upper: upperH, lower: lowerH, rBand: 3, rCore: 5 },
];

const letters: [string, number, number][] = [["A", 2, 57], ["B", 425, 57], ["C", 3, 329], ["D", 425, 330], ["E", 3, 603], ["F", 425, 603], ["G", 2, 908], ["H", 427, 908]];
const equations: [string, string, number, number, number][] = [
  ["y = 2.652 + 0.917x", "r = 0.959", 109, 60, 88],
  ["y = 1.481 + 0.9392x", "r = 0.971", 504, 63, 92],
  ["y = 8.08 + 0.8986x", "r = 0.626", 109, 337, 366],
  ["y = 0.5982 + 0.9701x", "r = 0.652", 510, 329, 358],
  ["y = - 1.184 + 1.001x", "r = 0.957", 109, 613, 642],
  ["y = - 0.9759 + 0.9956x", "r = 0.975", 502, 610, 638],
  ["y = 8.713 + 0.8542x", "r = 0.575", 113, 908, 937],
  ["y = 1.405 + 0.9692x", "r = 0.647", 510, 911, 939],
];
// name, subscript, x, y, rotated, size
const axisLabels: [string, string, number, number, boolean, number][] = [
  ["FAS", "age", 50, 134, true, 12], ["Schwartz", "bedside", 223, 284, false, 12],
  ["FAS", "age", 449, 143, true, 12], ["Schwartz", "bedside", 630, 282, false, 12],
  ["CAPA", "", 46, 403, true, 13], ["Schwartz", "bedside", 227, 548, false, 12],
  ["CAPA", "", 448, 407, true, 13], ["Schwartz", "bedside", 639, 544, false, 12],
  ["FAS", "height", 48, 685, true, 14], ["FAS", "age", 227, 834, false, 12],
  ["FAS", "height", 440, 685, true, 14], ["FAS", "age", 625, 830, false, 12],
  ["Breg", "", 51, 990, true, 12], ["FAS", "height", 223, 1135, false, 12],
  ["Breg", "", 443, 990, true, 12], ["FAS", "height", 632, 1134, false, 12],
];

function Panel({ p }: { p: (typeof panels)[number] }) {
  const left = 42;
  const top = 8;
  const bottom = 30;
  const right = 14;
  const tick = { fontSize: 12.2, fill: "#1f1f1f", fontFamily: font };
  const axisLine = { stroke: "#8c8c8c", strokeWidth: 1.3 };
  return (
    <div style={{ position: "absolute", left: p.x0 - left, top: p.y1 - top }}>
      <ScatterChart
        width={p.x1 - p.x0 + left + right}
        height={p.y0 - p.y1 + top + bottom}
        margin={{ top, right, bottom: 0, left: 0 }}
      >
        <XAxis type="number" dataKey="x" domain={[0, p.max]} ticks={p.ticks} interval={0} height={bottom} tick={tick} tickSize={3} tickMargin={8} axisLine={axisLine} tickLine={axisLine} />
        <YAxis type="number" dataKey="y" domain={[0, p.max]} ticks={p.ticks} interval={0} width={left} tick={tick} tickSize={3} tickMargin={8} axisLine={axisLine} tickLine={axisLine} />
        <Scatter data={[{ x: 0, y: 0 }, { x: p.max, y: p.max }]} line={{ stroke: "#b4b4b4", strokeWidth: 1.2 }} shape={noDot} isAnimationActive={false} />
        <Scatter data={toXY(p.fit)} line={{ stroke: redColor, strokeWidth: 2 }} shape={noDot} isAnimationActive={false} />
        <Scatter data={toXY(p.pts)} shape={dot(1.7, 0.85)} isAnimationActive={false} />
        {p.halo && <Scatter data={toXY(p.halo)} shape={dot(2.1, 0.9)} isAnimationActive={false} />}
        {p.dense && <Scatter data={toXY(p.dense)} shape={dot(2.6)} isAnimationActive={false} />}
        <Scatter data={toXY(p.band)} shape={dot(p.rBand)} isAnimationActive={false} />
        <Scatter data={toXY(p.core)} shape={dot(p.rCore)} isAnimationActive={false} />
        {p.upper && <Scatter data={toXY(p.upper)} line={{ stroke: redColor, strokeWidth: 1.2, strokeDasharray: "2 2" }} shape={noDot} isAnimationActive={false} />}
        {p.lower && <Scatter data={toXY(p.lower)} line={{ stroke: redColor, strokeWidth: 1.2, strokeDasharray: "2 2" }} shape={noDot} isAnimationActive={false} />}
        <Scatter data={toXY(p.top)} line={{ stroke: redColor, strokeWidth: 3.2 }} shape={noDot} isAnimationActive={false} />
      </ScatterChart>
    </div>
  );
}

export default function App() {
  return (
    <div style={{ position: "absolute", left: 0, top: 0, width: 789, height: 1141, background: "#fff", overflow: "hidden" }}>
      {panels.map((p, i) => (
        <Panel key={i} p={p} />
      ))}
      <svg width={789} height={1141} style={{ position: "absolute", left: 0, top: 0, pointerEvents: "none" }}>
        <g fontFamily="'Liberation Sans', Arial, sans-serif" fontWeight="bold" fill="#000">
          <text x={223} y={21} fontSize={23} textAnchor="middle">Male</text>
          <text x={640} y={21} fontSize={23} textAnchor="middle">Female</text>
          {letters.map(([l, x, y]) => (
            <text key={l} x={x} y={y} fontSize={30}>{l}</text>
          ))}
        </g>
        <g fontFamily={font} fontSize={12.2} fill="#1f1f1f">
          {equations.map(([eq, r, x, y1, y2]) => (
            <g key={eq}>
              <text x={x} y={y1}>{eq}</text>
              <text x={x} y={y2}>{r}</text>
            </g>
          ))}
        </g>
        <g fontFamily={font} fill="#1f1f1f">
          {axisLabels.map(([name, sub, x, y, rotated, size], i) => (
            <text key={i} x={x} y={y} fontSize={size} textAnchor="middle" transform={rotated ? `rotate(-90 ${x} ${y})` : undefined}>
              {name}
              {sub && <tspan dy={3} fontSize={size * 0.75}>{sub}</tspan>}
            </text>
          ))}
        </g>
      </svg>
    </div>
  );
}
